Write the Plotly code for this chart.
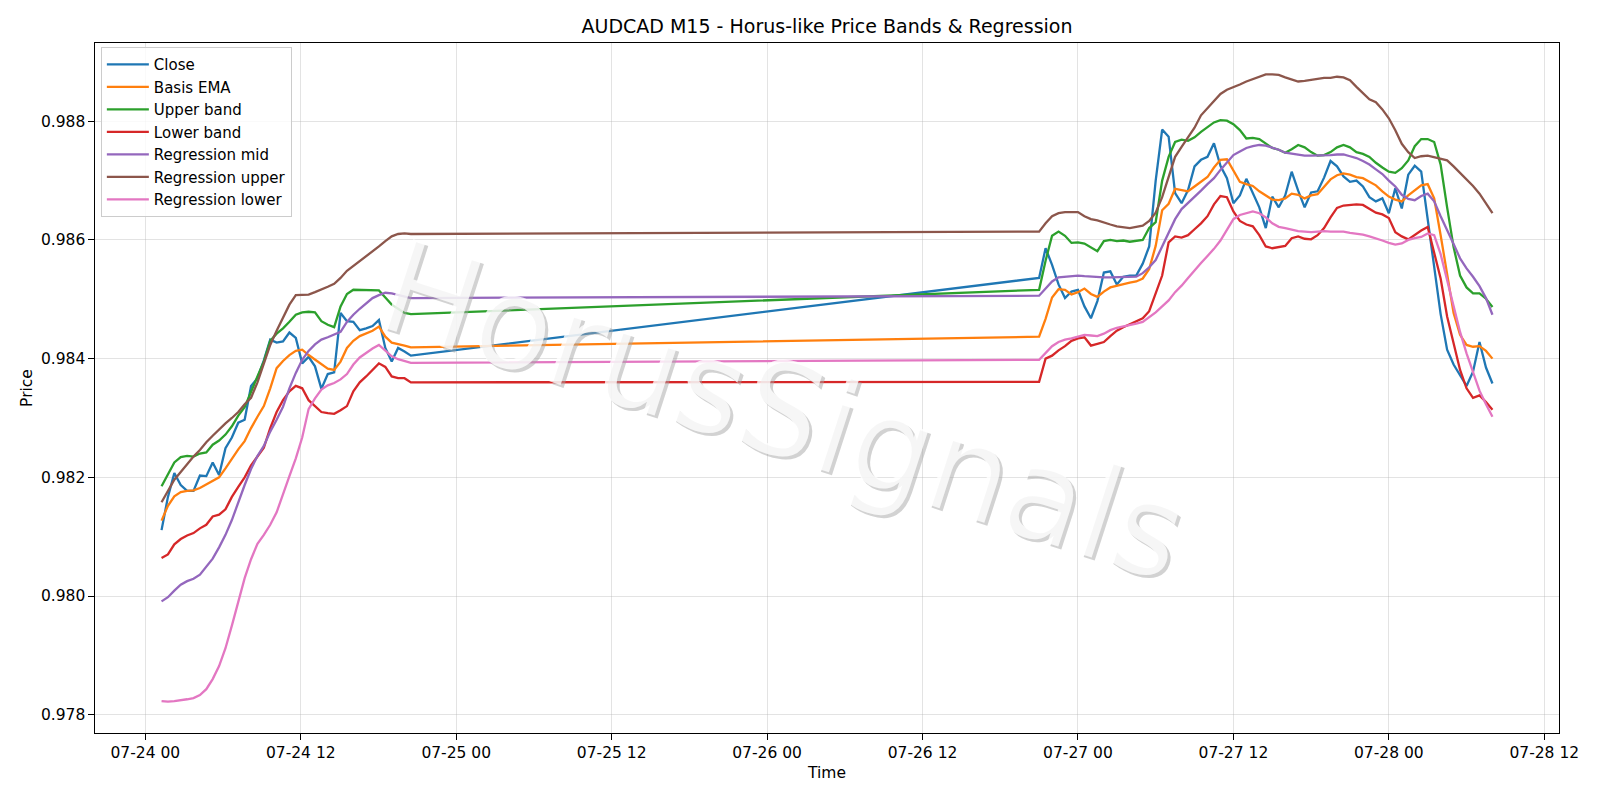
import pandas as pd
import plotly.graph_objects as go

# ---------------- data ----------------
# session 1: 2025-07-24 01:15 -> 20:30 (40 samples); session 2: 2025-07-26 21:00 -> 2025-07-28 08:00 (30 min)
times_a = pd.date_range("2025-07-24 01:15", "2025-07-24 20:30", periods=40)
times_b = pd.date_range("2025-07-26 21:00", "2025-07-28 08:00", freq="30min")

close_a = [0.98111, 0.98167, 0.98207, 0.98187, 0.98177, 0.98177, 0.98203, 0.98202, 0.98225, 0.98204,
           0.98249, 0.98267, 0.98292, 0.98297, 0.98354, 0.98367, 0.98397, 0.98432, 0.98427, 0.98429,
           0.98444, 0.98435, 0.98392, 0.98403, 0.98387, 0.98349, 0.98374, 0.98377, 0.98477, 0.98463,
           0.98462, 0.98448, 0.98451, 0.98455, 0.98465, 0.98418, 0.98395, 0.98418, 0.98412, 0.98405]
close_b = [0.98536, 0.98586, 0.98558, 0.98525, 0.98502, 0.98513, 0.98516, 0.98488, 0.98468, 0.98497,
           0.98545, 0.98547, 0.98525, 0.98538, 0.98540, 0.98540, 0.98560, 0.98589, 0.98700, 0.98786,
           0.98774, 0.98679, 0.98662, 0.98684, 0.98724, 0.98735, 0.98740, 0.98763, 0.98725, 0.98704,
           0.98662, 0.98675, 0.98703, 0.98680, 0.98655, 0.98620, 0.98673, 0.98655, 0.98675, 0.98715,
           0.98683, 0.98655, 0.98680, 0.98682, 0.98705, 0.98733, 0.98724, 0.98707, 0.98698, 0.98700,
           0.98690, 0.98672, 0.98665, 0.98670, 0.98645, 0.98687, 0.98653, 0.98710, 0.98725, 0.98715,
           0.98635, 0.98560, 0.98475, 0.98415, 0.98390, 0.98372, 0.98354, 0.98378, 0.98428, 0.98385,
           0.98358]

ema_a = [0.98127, 0.98152, 0.98168, 0.98175, 0.98177, 0.98178, 0.98182, 0.98188, 0.98193, 0.98200,
         0.98215, 0.98232, 0.98247, 0.98261, 0.98283, 0.98302, 0.98320, 0.98350, 0.98384, 0.98396,
         0.98406, 0.98413, 0.98415, 0.98406, 0.98398, 0.98390, 0.98383, 0.98381, 0.98395, 0.98418,
         0.98430, 0.98438, 0.98442, 0.98447, 0.98454, 0.98437, 0.98427, 0.98425, 0.98422, 0.98419]
ema_b = [0.98437, 0.98467, 0.98503, 0.98517, 0.98516, 0.98508, 0.98512, 0.98518, 0.98509, 0.98504,
         0.98513, 0.98520, 0.98523, 0.98525, 0.98528, 0.98530, 0.98535, 0.98551, 0.98590, 0.98650,
         0.98661, 0.98686, 0.98684, 0.98682, 0.98690, 0.98698, 0.98706, 0.98722, 0.98735, 0.98736,
         0.98718, 0.98698, 0.98694, 0.98691, 0.98682, 0.98675, 0.98668, 0.98667, 0.98670, 0.98678,
         0.98676, 0.98670, 0.98675, 0.98677, 0.98690, 0.98702, 0.98709, 0.98712, 0.98710, 0.98706,
         0.98704, 0.98698, 0.98692, 0.98682, 0.98673, 0.98668, 0.98665, 0.98675, 0.98683, 0.98692,
         0.98694, 0.98670, 0.98608, 0.98543, 0.98477, 0.98440, 0.98423, 0.98420, 0.98421, 0.98413,
         0.98400]

upper_a = [0.98185, 0.98206, 0.98225, 0.98234, 0.98236, 0.98235, 0.98240, 0.98242, 0.98255, 0.98262,
           0.98272, 0.98286, 0.98304, 0.98318, 0.98345, 0.98370, 0.98395, 0.98430, 0.98442, 0.98451,
           0.98462, 0.98474, 0.98478, 0.98479, 0.98478, 0.98463, 0.98457, 0.98453, 0.98488, 0.98509,
           0.98516, 0.98516, 0.98516, 0.98515, 0.98515, 0.98503, 0.98491, 0.98484, 0.98477, 0.98475]
upper_b = [0.98516, 0.98565, 0.98607, 0.98614, 0.98607, 0.98595, 0.98596, 0.98594, 0.98588, 0.98581,
           0.98598, 0.98600, 0.98598, 0.98599, 0.98597, 0.98598, 0.98600, 0.98620, 0.98630, 0.98700,
           0.98740, 0.98765, 0.98769, 0.98767, 0.98773, 0.98782, 0.98790, 0.98798, 0.98802, 0.98801,
           0.98795, 0.98785, 0.98771, 0.98772, 0.98770, 0.98763, 0.98755, 0.98752, 0.98747, 0.98753,
           0.98760, 0.98756, 0.98748, 0.98742, 0.98743, 0.98748, 0.98756, 0.98760, 0.98756, 0.98748,
           0.98745, 0.98740, 0.98730, 0.98722, 0.98715, 0.98713, 0.98721, 0.98734, 0.98758, 0.98770,
           0.98770, 0.98765, 0.98727, 0.98655, 0.98588, 0.98540, 0.98520, 0.98510, 0.98510, 0.98501,
           0.98487]

lower_a = [0.98064, 0.98070, 0.98087, 0.98096, 0.98102, 0.98106, 0.98114, 0.98120, 0.98134, 0.98137,
           0.98146, 0.98167, 0.98184, 0.98200, 0.98220, 0.98235, 0.98250, 0.98283, 0.98310, 0.98330,
           0.98345, 0.98354, 0.98350, 0.98330, 0.98320, 0.98310, 0.98308, 0.98307, 0.98313, 0.98320,
           0.98345, 0.98360, 0.98370, 0.98381, 0.98392, 0.98386, 0.98370, 0.98367, 0.98367, 0.98360]
lower_b = [0.98361, 0.98400, 0.98405, 0.98414, 0.98421, 0.98430, 0.98434, 0.98436, 0.98422, 0.98425,
           0.98428, 0.98438, 0.98447, 0.98453, 0.98458, 0.98462, 0.98468, 0.98480, 0.98510, 0.98540,
           0.98596, 0.98606, 0.98604, 0.98608, 0.98618, 0.98628, 0.98640, 0.98660, 0.98674, 0.98672,
           0.98648, 0.98632, 0.98626, 0.98623, 0.98608, 0.98589, 0.98586, 0.98588, 0.98590, 0.98603,
           0.98606, 0.98602, 0.98601, 0.98608, 0.98620, 0.98638, 0.98654, 0.98658, 0.98659, 0.98660,
           0.98659, 0.98652, 0.98646, 0.98643, 0.98637, 0.98613, 0.98606, 0.98601, 0.98609, 0.98616,
           0.98622, 0.98580, 0.98535, 0.98471, 0.98425, 0.98381, 0.98350, 0.98334, 0.98338, 0.98327,
           0.98314]

reg_mid_a = [0.97991, 0.97998, 0.98009, 0.98019, 0.98025, 0.98029, 0.98036, 0.98049, 0.98063, 0.98082,
             0.98103, 0.98128, 0.98158, 0.98187, 0.98214, 0.98236, 0.98253, 0.98277, 0.98297, 0.98319,
             0.98350, 0.98376, 0.98398, 0.98413, 0.98424, 0.98432, 0.98436, 0.98440, 0.98445, 0.98462,
             0.98474, 0.98484, 0.98493, 0.98502, 0.98507, 0.98511, 0.98510, 0.98507, 0.98505, 0.98502]
reg_mid_b = [0.98506, 0.98518, 0.98530, 0.98537, 0.98538, 0.98538, 0.98540, 0.98539, 0.98538, 0.98537,
             0.98537, 0.98537, 0.98537, 0.98537, 0.98537, 0.98538, 0.98544, 0.98554, 0.98566, 0.98590,
             0.98614, 0.98635, 0.98652, 0.98662, 0.98672, 0.98683, 0.98694, 0.98704, 0.98718, 0.98731,
             0.98743, 0.98749, 0.98755, 0.98758, 0.98760, 0.98759, 0.98756, 0.98752, 0.98747, 0.98745,
             0.98743, 0.98742, 0.98742, 0.98742, 0.98743, 0.98743, 0.98744, 0.98744, 0.98741, 0.98738,
             0.98733, 0.98727, 0.98719, 0.98711, 0.98700, 0.98690, 0.98676, 0.98669, 0.98667, 0.98674,
             0.98678, 0.98665, 0.98640, 0.98615, 0.98593, 0.98569, 0.98552, 0.98538, 0.98522, 0.98502,
             0.98474]

reg_up_a = [0.98158, 0.98178, 0.98196, 0.98209, 0.98222, 0.98235, 0.98246, 0.98259, 0.98270, 0.98281,
            0.98291, 0.98300, 0.98310, 0.98323, 0.98334, 0.98360, 0.98392, 0.98423, 0.98447, 0.98470,
            0.98491, 0.98507, 0.98507, 0.98508, 0.98512, 0.98516, 0.98521, 0.98526, 0.98536, 0.98548,
            0.98556, 0.98565, 0.98572, 0.98580, 0.98589, 0.98598, 0.98606, 0.98610, 0.98611, 0.98610]
reg_up_b = [0.98614, 0.98628, 0.98640, 0.98645, 0.98647, 0.98647, 0.98647, 0.98640, 0.98635, 0.98633,
            0.98629, 0.98626, 0.98623, 0.98621, 0.98620, 0.98622, 0.98624, 0.98632, 0.98646, 0.98672,
            0.98705, 0.98740, 0.98757, 0.98772, 0.98789, 0.98810, 0.98822, 0.98835, 0.98846, 0.98853,
            0.98857, 0.98862, 0.98867, 0.98871, 0.98876, 0.98879, 0.98879, 0.98878, 0.98874, 0.98870,
            0.98867, 0.98868, 0.98870, 0.98871, 0.98873, 0.98873, 0.98875, 0.98874, 0.98869, 0.98858,
            0.98847, 0.98837, 0.98832, 0.98820, 0.98805, 0.98785, 0.98762, 0.98748, 0.98738, 0.98741,
            0.98742, 0.98739, 0.98737, 0.98734, 0.98724, 0.98713, 0.98702, 0.98691, 0.98678, 0.98662,
            0.98645]

reg_lo_a = [0.97823, 0.97822, 0.97823, 0.97824, 0.97826, 0.97828, 0.97833, 0.97843, 0.97860, 0.97882,
            0.97912, 0.97950, 0.97990, 0.98030, 0.98062, 0.98088, 0.98103, 0.98120, 0.98141, 0.98170,
            0.98202, 0.98232, 0.98267, 0.98315, 0.98333, 0.98348, 0.98355, 0.98359, 0.98365, 0.98374,
            0.98390, 0.98402, 0.98410, 0.98417, 0.98423, 0.98413, 0.98404, 0.98399, 0.98396, 0.98393]
reg_lo_b = [0.98398, 0.98410, 0.98421, 0.98428, 0.98432, 0.98434, 0.98437, 0.98440, 0.98439, 0.98438,
            0.98442, 0.98448, 0.98452, 0.98454, 0.98457, 0.98459, 0.98462, 0.98470, 0.98478, 0.98488,
            0.98498, 0.98512, 0.98523, 0.98536, 0.98549, 0.98561, 0.98573, 0.98585, 0.98599, 0.98617,
            0.98635, 0.98642, 0.98645, 0.98648, 0.98645, 0.98638, 0.98628, 0.98622, 0.98620, 0.98617,
            0.98615, 0.98614, 0.98613, 0.98614, 0.98615, 0.98614, 0.98614, 0.98614, 0.98612, 0.98611,
            0.98609, 0.98606, 0.98603, 0.98599, 0.98595, 0.98592, 0.98594, 0.98600, 0.98603, 0.98605,
            0.98611, 0.98608, 0.98576, 0.98533, 0.98490, 0.98445, 0.98409, 0.98378, 0.98346, 0.98323,
            0.98302]

series_names = ["Close", "Basis EMA", "Upper band", "Lower band",
                "Regression mid", "Regression upper", "Regression lower"]
series_colors = ["#1f77b4", "#ff7f0e", "#2ca02c", "#d62728", "#9467bd", "#8c564b", "#e377c2"]
series_values = [close_a + close_b, ema_a + ema_b, upper_a + upper_b, lower_a + lower_b,
                 reg_mid_a + reg_mid_b, reg_up_a + reg_up_b, reg_lo_a + reg_lo_b]

title_text = "AUDCAD M15 - Horus-like Price Bands & Regression"
watermark = "HorusSignals"

# ---------------- figure ----------------
times = list(times_a) + list(times_b)

fig = go.Figure()
for name, color, vals in zip(series_names, series_colors, series_values):
    fig.add_trace(go.Scatter(x=times, y=vals, mode="lines", name=name,
                             line=dict(color=color, width=2.3)))

# matplotlib-like 5% margins
t0, t1 = min(times), max(times)
pad_t = (t1 - t0) * 0.05
all_vals = [v for s in series_values for v in s]
vmin, vmax = min(all_vals), max(all_vals)
pad_v = (vmax - vmin) * 0.05

FONT = "DejaVu Sans"
FS = 15.5
W, H = 1600, 800
L, R, T, B = 95, 41, 43, 67

fig.update_layout(
    width=W, height=H,
    margin=dict(l=L, r=R, t=T, b=B),
    paper_bgcolor="white", plot_bgcolor="white",
    font=dict(family=FONT, size=FS, color="black"),
    title=dict(text=title_text, x=(L + (W - R)) / 2 / W, xanchor="center",
               y=1 - 26 / H, yanchor="middle", font=dict(size=19, family=FONT)),
    legend=dict(x=0.004, y=0.994, xanchor="left", yanchor="top",
                bgcolor="rgba(255,255,255,0.8)", bordercolor="#cccccc", borderwidth=1,
                font=dict(size=15, family=FONT), itemwidth=42),
    showlegend=True,
)

fig.update_xaxes(
    range=[t0 - pad_t, t1 + pad_t],
    tickformat="%m-%d %H", dtick=12 * 3600 * 1000, tick0="2025-07-24 00:00",
    showline=True, linecolor="black", linewidth=1.1, mirror=True,
    ticks="outside", ticklen=5.5, tickwidth=1.1, tickcolor="black",
    showgrid=True, gridcolor="rgba(176,176,176,0.35)", gridwidth=1,
    zeroline=False,
    title=dict(text="Time", standoff=5, font=dict(size=FS, family=FONT)),
    tickfont=dict(size=FS, family=FONT),
)
fig.update_yaxes(
    range=[vmin - pad_v, vmax + pad_v],
    tickformat=".3f", dtick=0.002, tick0=0.978,
    showline=True, linecolor="black", linewidth=1.1, mirror=True,
    ticks="outside", ticklen=5.5, tickwidth=1.1, tickcolor="black",
    showgrid=True, gridcolor="rgba(176,176,176,0.35)", gridwidth=1,
    zeroline=False,
    title=dict(text="Price", standoff=4, font=dict(size=FS, family=FONT)),
    tickfont=dict(size=FS, family=FONT),
)

# watermark: light grey shadow + semi-transparent white text, rotated
wm_x, wm_y = 0.470, 0.468
fig.add_annotation(text=watermark, xref="paper", yref="paper", x=wm_x, y=wm_y,
                   xshift=3, yshift=-3, showarrow=False, textangle=18,
                   font=dict(family=FONT, size=128, color="rgba(165,165,165,0.5)"))
fig.add_annotation(text=watermark, xref="paper", yref="paper", x=wm_x, y=wm_y,
                   showarrow=False, textangle=18,
                   font=dict(family=FONT, size=128, color="rgba(255,255,255,0.8)"))

fig.write_html("out.html")
